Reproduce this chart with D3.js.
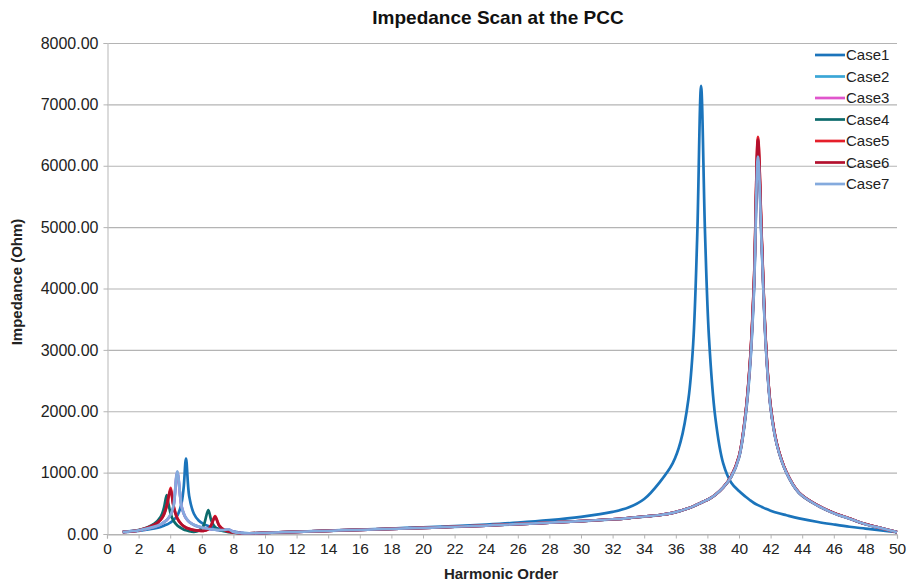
<!DOCTYPE html>
<html>
<head>
<meta charset="utf-8">
<script src="https://cdn.jsdelivr.net/npm/d3@7"></script>
<style>
  html, body { margin: 0; padding: 0; background: #fff; }
  svg { display: block; font-family: "Liberation Sans", Arial, Helvetica, sans-serif; }
</style>
</head>
<body>
<svg id="chart" width="907" height="588"></svg>
<script>
// Harmonic orders at which the impedance was evaluated
const harmonics = [
  1, 2, 3, 3.4, 3.6, 3.78, 3.9, 4.03, 4.2, 4.45,
  4.7, 4.85, 5.0, 5.2, 5.5, 5.8, 6.1, 6.41, 6.6, 6.84,
  7.1, 7.4, 7.7, 8.0, 8.5,
  9, 10, 12, 14, 16, 18, 20, 22, 24, 26,
  28, 30, 32, 33, 34, 35, 35.8, 36.3, 36.8, 37.1,
  37.35, 37.6, 37.85, 38.1, 38.5, 39, 39.5, 40, 40.4, 40.7,
  40.95, 41.2, 41.45, 41.7, 42, 42.4, 43, 43.8, 45, 46,
  47, 48, 49, 50
];

// Impedance magnitude (Ohm) per case
const case1 = [
  30, 50, 90, 115, 135, 155, 170, 190, 225, 300,
  480, 750, 1230, 620, 330, 220, 165, 130, 115, 100,
  85, 70, 55, 40, 20,
  12, 20, 38, 55, 72, 90, 110, 130, 155, 185,
  225, 280, 360, 430, 570, 850, 1150, 1500, 2200, 3100,
  4800, 7300, 4900, 3200, 1900, 1150, 840, 700, 610, 550,
  505, 470, 440, 410, 380, 345, 305, 255, 195, 155,
  118, 88, 58, 30
];
const case2 = [
  35, 58, 115, 155, 190, 225, 260, 310, 430, 990,
  470, 335, 255, 195, 148, 118, 98, 84, 76, 70,
  64, 64, 72, 34, 15,
  10, 18, 34, 51, 67, 83, 99, 117, 137, 159,
  184, 208, 238, 258, 283, 308, 342, 377, 418, 448,
  478, 508, 538, 568, 636, 755, 925, 1240, 1880, 2720,
  3980, 6200, 4620, 3060, 2060, 1455, 1000, 668, 458, 338,
  248, 158, 94, 30
];
const case3 = [
  35, 59, 118, 158, 193, 228, 262, 315, 440, 1005,
  475, 338, 258, 198, 149, 119, 99, 85, 77, 70,
  65, 65, 74, 35, 15,
  10, 18, 35, 52, 68, 84, 100, 118, 138, 160,
  185, 210, 240, 260, 285, 310, 345, 380, 420, 450,
  480, 510, 540, 570, 640, 760, 935, 1260, 1920, 2780,
  4050, 6250, 4650, 3080, 2070, 1460, 1005, 672, 462, 342,
  252, 162, 96, 31
];
const case4 = [
  35, 65, 170, 280, 420, 635, 480, 330, 220, 140,
  95, 75, 60, 45, 35, 50, 130, 390, 220, 110,
  65, 45, 30, 20, 12,
  10, 18, 35, 52, 68, 84, 100, 118, 138, 160,
  185, 210, 240, 260, 285, 310, 345, 380, 420, 450,
  480, 510, 540, 570, 640, 760, 935, 1260, 1920, 2800,
  4080, 6300, 4680, 3100, 2080, 1460, 1005, 672, 462, 342,
  252, 162, 96, 31
];
const case5 = [
  35, 60, 150, 230, 310, 450, 600, 750, 480, 260,
  165, 130, 105, 85, 65, 55, 50, 80, 150, 290,
  140, 70, 40, 25, 12,
  10, 18, 35, 52, 68, 84, 100, 118, 138, 160,
  185, 210, 240, 260, 285, 310, 345, 380, 420, 450,
  480, 510, 540, 570, 640, 760, 940, 1270, 1940, 2830,
  4150, 6470, 4750, 3120, 2090, 1470, 1010, 675, 465, 343,
  253, 162, 96, 31
];
const case6 = [
  35, 60, 150, 235, 320, 470, 620, 720, 460, 250,
  160, 128, 103, 84, 64, 54, 50, 78, 145, 275,
  135, 68, 40, 25, 12,
  10, 18, 35, 52, 68, 84, 100, 118, 138, 160,
  185, 210, 240, 260, 285, 310, 345, 380, 420, 450,
  480, 510, 540, 570, 640, 760, 938, 1265, 1930, 2820,
  4130, 6430, 4730, 3110, 2085, 1465, 1008, 674, 464, 342,
  252, 162, 96, 31
];
const case7 = [
  35, 60, 120, 160, 195, 230, 265, 320, 450, 1020,
  480, 340, 260, 200, 150, 120, 100, 85, 78, 70,
  65, 65, 75, 35, 15,
  10, 18, 35, 52, 68, 84, 100, 118, 138, 160,
  185, 210, 240, 260, 285, 310, 345, 380, 420, 450,
  480, 510, 540, 570, 640, 760, 930, 1250, 1900, 2750,
  4000, 6150, 4600, 3050, 2050, 1450, 1000, 670, 460, 340,
  250, 160, 95, 30
];

const seriesNames = ["Case1", "Case2", "Case3", "Case4", "Case5", "Case6", "Case7"];
const seriesValues = [case1, case2, case3, case4, case5, case6, case7];
const seriesColors = ["#1b74bb", "#3aa6d6", "#e055cc", "#0c6b6c", "#e51f2a", "#b3102d", "#84aadd"];

const yTicks = [0, 1000, 2000, 3000, 4000, 5000, 6000, 7000, 8000];
const xTicks = d3.range(0, 51, 2);

const svg = d3.select("#chart");
const plotLeft = 107, plotRight = 897, plotTop = 43, plotBottom = 534;

const x = d3.scaleLinear().domain([0, 50]).range([plotLeft, plotRight]);
const y = d3.scaleLinear().domain([0, 8000]).range([plotBottom, plotTop]);

// horizontal gridlines
svg.append("g")
  .selectAll("line")
  .data(yTicks)
  .join("line")
  .attr("x1", plotLeft).attr("x2", plotRight)
  .attr("y1", d => y(d) + 0.5).attr("y2", d => y(d) + 0.5)
  .attr("stroke", "#b4b4b4").attr("stroke-width", 1.2);

// y axis
const yAxis = svg.append("g")
  .attr("transform", `translate(${plotLeft + 0.5},0)`)
  .call(d3.axisLeft(y).tickValues(yTicks).tickFormat(d3.format(".2f")).tickSize(4).tickPadding(5));
yAxis.select(".domain").attr("stroke", "#c4c4c4").attr("stroke-width", 1.2);
yAxis.selectAll(".tick line").attr("stroke", "#b4b4b4");
yAxis.selectAll(".tick text")
  .attr("font-size", 16).attr("fill", "#222")
  .attr("font-family", "'Liberation Sans', Arial, sans-serif");

// x axis
const xAxis = svg.append("g")
  .attr("transform", `translate(0,${plotBottom + 0.5})`)
  .call(d3.axisBottom(x).tickValues(xTicks).tickFormat(d3.format("d")).tickSize(4).tickPadding(4));
xAxis.select(".domain").attr("stroke", "#b4b4b4").attr("stroke-width", 1.2);
xAxis.selectAll(".tick line").attr("stroke", "#b4b4b4");
xAxis.selectAll(".tick text")
  .attr("font-size", 15.5).attr("fill", "#222")
  .attr("font-family", "'Liberation Sans', Arial, sans-serif");

// impedance curves, smoothed through the sampled points
const line = d3.line()
  .x((d, i) => x(harmonics[i]))
  .y(d => y(d))
  .curve(d3.curveCatmullRom.alpha(0.5));

svg.append("g")
  .selectAll("path")
  .data(seriesValues)
  .join("path")
  .attr("d", d => line(d))
  .attr("fill", "none")
  .attr("stroke", (d, i) => seriesColors[i])
  .attr("stroke-width", 2.7)
  .attr("stroke-linejoin", "round");

// legend
const legend = svg.append("g");
const rows = legend.selectAll("g")
  .data(seriesNames)
  .join("g")
  .attr("transform", (d, i) => `translate(815,${55 + i * 21.5})`);
rows.append("line")
  .attr("x1", 0).attr("x2", 30)
  .attr("stroke", (d, i) => seriesColors[i])
  .attr("stroke-width", 2.7);
rows.append("text")
  .attr("x", 31).attr("dy", "0.36em")
  .attr("font-size", 15).attr("fill", "#222")
  .text(d => d);

// titles
svg.append("text")
  .attr("x", 498).attr("y", 24)
  .attr("text-anchor", "middle")
  .attr("font-size", 19).attr("font-weight", "bold").attr("fill", "#111")
  .text("Impedance Scan at the PCC");

svg.append("text")
  .attr("x", 501).attr("y", 579)
  .attr("text-anchor", "middle")
  .attr("font-size", 15).attr("font-weight", "bold").attr("fill", "#222")
  .text("Harmonic Order");

svg.append("text")
  .attr("transform", "translate(22,282) rotate(-90)")
  .attr("text-anchor", "middle")
  .attr("font-size", 15).attr("font-weight", "bold").attr("fill", "#222")
  .text("Impedance (Ohm)");
</script>
</body>
</html>
